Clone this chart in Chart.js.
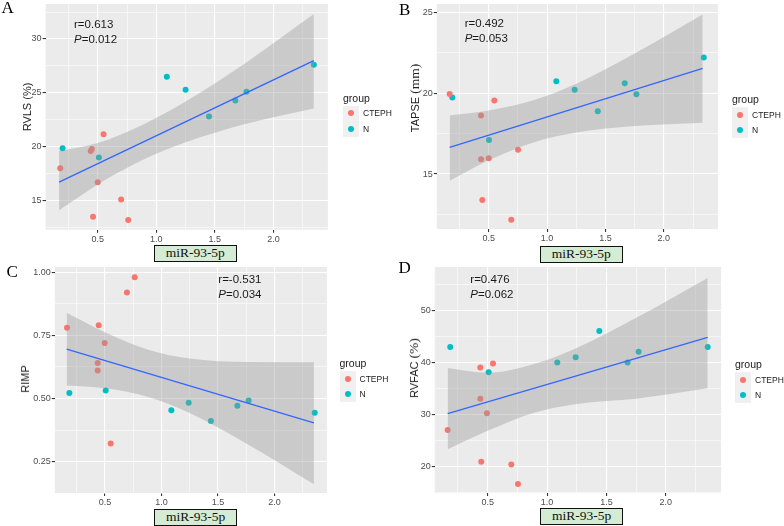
<!DOCTYPE html>
<html>
<head>
<meta charset="utf-8">
<script src="https://cdn.jsdelivr.net/npm/chart.js@4.4.0/dist/chart.umd.min.js"></script>
<style>
body { margin:0; background:#fff; width:784px; height:526px; position:relative; overflow:hidden; font-family:"Liberation Sans", Arial, sans-serif; }
.panel { position:absolute; width:392px; height:263px; }
.panel canvas { position:absolute; left:0; top:0; }
.letter { position:absolute; font-family:"Liberation Serif", serif; font-size:17px; line-height:17px; color:#000; }
.stat { position:absolute; font-size:11.5px; line-height:15px; color:#1a1a1a; white-space:nowrap; }
.ytitle { position:absolute; transform:translate(-50%,-50%) rotate(-90deg); white-space:nowrap; font-size:11px; color:#222; }
.ytitle .serif { font-family:"Liberation Serif", serif; font-size:13.5px; }
.xbox { position:absolute; box-sizing:border-box; width:82.5px; height:17px; border:1.5px solid #111; background:#d4ecd3;
        font-family:"Liberation Serif", serif; font-size:13.5px; line-height:13px; text-align:center; color:#111; }
.lgtitle { position:absolute; font-size:10.5px; line-height:12px; color:#1a1a1a; }
.lgkeys { position:absolute; width:16px; height:31px; background:#f0f0f0; }
.dot { position:absolute; width:6px; height:6px; border-radius:50%; }
.lglabel { position:absolute; font-size:8.5px; line-height:10px; color:#1a1a1a; }
</style>
</head>
<body>
<script>
const groups = ['CTEPH', 'N'];
const groupColors = ['#F8766D', '#00BFC4'];

const xMajorTicks = [0.5, 1.0, 1.5, 2.0];
const xMinorTicks = [0.25, 0.75, 1.25, 1.75, 2.25];
const xMin = 0.055, xMax = 2.465;

// A  RVLS
const rvlsCtephX = [0.18, 0.44, 0.45, 0.55, 0.50, 0.70, 0.46, 0.76];
const rvlsCtephY = [18.0, 19.6, 19.8, 21.15, 16.7, 15.1, 13.5, 13.2];
const rvlsNX = [0.20, 0.51, 1.09, 1.25, 1.45, 1.675, 1.77, 2.345];
const rvlsNY = [19.85, 19.0, 26.5, 25.3, 22.8, 24.3, 25.1, 27.6];
const rvlsFitX = [0.17, 2.345];
const rvlsFitY = [16.71, 28.0];
const rvlsBandX = [0.17, 0.5, 0.89, 1.25, 1.75, 2.345];
const rvlsBandHi = [19.6, 20.34, 22.07, 24.19, 27.69, 32.32];
const rvlsBandLo = [14.1, 16.5, 18.81, 20.41, 22.09, 23.56];
const rvlsMajorTicks = [15, 20, 25, 30];
const rvlsMinorTicks = [12.5, 17.5, 22.5, 27.5, 32.5];

// B  TAPSE
const tapseCtephX = [0.165, 0.434, 0.548, 0.434, 0.50, 0.751, 0.445, 0.693];
const tapseCtephY = [19.94, 18.62, 19.54, 15.91, 15.98, 16.5, 13.39, 12.17];
const tapseNX = [0.188, 0.502, 1.079, 1.236, 1.434, 1.665, 1.765, 2.342];
const tapseNY = [19.72, 17.1, 20.73, 20.2, 18.88, 20.61, 19.92, 22.2];
const tapseFitX = [0.165, 2.333];
const tapseFitY = [16.65, 21.52];
const tapseBandX = [0.165, 0.5, 0.89, 1.25, 1.75, 2.333];
const tapseBandHi = [18.62, 18.93, 19.57, 20.58, 22.44, 24.85];
const tapseBandLo = [14.59, 15.85, 16.97, 17.56, 17.96, 18.17];
const tapseMajorTicks = [15, 20, 25];
const tapseMinorTicks = [12.5, 17.5, 22.5];

// C  RIMP
const rimpCtephX = [0.163, 0.444, 0.497, 0.435, 0.435, 0.694, 0.763, 0.55];
const rimpCtephY = [0.78, 0.79, 0.719, 0.64, 0.611, 0.919, 0.979, 0.322];
const rimpNX = [0.184, 0.506, 1.087, 1.241, 1.438, 1.672, 1.772, 2.357];
const rimpNY = [0.522, 0.531, 0.453, 0.483, 0.411, 0.471, 0.492, 0.443];
const rimpFitX = [0.16, 2.35];
const rimpFitY = [0.695, 0.403];
const rimpBandX = [0.16, 0.5, 0.89, 1.25, 1.75, 2.35];
const rimpBandHi = [0.839, 0.762, 0.692, 0.658, 0.644, 0.643];
const rimpBandLo = [0.551, 0.540, 0.505, 0.442, 0.322, 0.161];
const rimpMajorTicks = [0.25, 0.5, 0.75, 1.0];
const rimpMinorTicks = [0.125, 0.375, 0.625, 0.875];

// D  RVFAC
const rvfacCtephX = [0.163, 0.438, 0.545, 0.438, 0.494, 0.446, 0.699, 0.755];
const rvfacCtephY = [26.97, 39.0, 39.77, 33.0, 30.2, 20.83, 20.33, 16.55];
const rvfacNX = [0.185, 0.508, 1.086, 1.241, 1.44, 1.678, 1.771, 2.352];
const rvfacNY = [42.97, 38.1, 40.0, 40.98, 46.04, 40.0, 42.07, 42.97];
const rvfacFitX = [0.163, 2.352];
const rvfacFitY = [30.13, 44.85];
const rvfacBandX = [0.163, 0.5, 0.89, 1.25, 1.75, 2.352];
const rvfacBandHi = [38.94, 38.0, 39.7, 42.8, 48.6, 56.3];
const rvfacBandLo = [23.26, 26.8, 30.3, 32.0, 33.0, 35.0];
const rvfacMajorTicks = [20, 30, 40, 50];
const rvfacMinorTicks = [15, 25, 35, 45, 55];

const panels = [
  { letter:'A', left:0, top:0, area:{left:45.6, right:327.9, top:1.6, bottom:229.7},
    yMin:12.3, yMax:33.25, yMajor:rvlsMajorTicks, yMinor:rvlsMinorTicks, yFmt:v => String(v),
    cx:rvlsCtephX, cy:rvlsCtephY, nx:rvlsNX, ny:rvlsNY, fx:rvlsFitX, fy:rvlsFitY,
    bx:rvlsBandX, bhi:rvlsBandHi, blo:rvlsBandLo,
    ytitle:'RVLS (%)', ytPos:[27.3, 107], r:'0.613', p:'0.012', statPos:[74, 16.8],
    boxPos:[154, 244.5], legPos:[343, 105.5], letterPos:[1.5, -1.2] },
  { letter:'B', left:392, top:0, area:{left:44.8, right:326.1, top:1.1, bottom:229.1},
    yMin:11.6, yMax:25.5, yMajor:tapseMajorTicks, yMinor:tapseMinorTicks, yFmt:v => String(v),
    cx:tapseCtephX, cy:tapseCtephY, nx:tapseNX, ny:tapseNY, fx:tapseFitX, fy:tapseFitY,
    bx:tapseBandX, bhi:tapseBandHi, blo:tapseBandLo,
    ytitle:'TAPSE <span class="serif">(mm)</span>', ytPos:[22.7, 97.5], r:'0.492', p:'0.053', statPos:[72.7, 16.2],
    boxPos:[148, 245.5], legPos:[340, 107.2], letterPos:[7, 1.1] },
  { letter:'C', left:0, top:263, area:{left:54.8, right:326.9, top:2.2, bottom:230},
    yMin:0.126, yMax:1.02, yMajor:rimpMajorTicks, yMinor:rimpMinorTicks, yFmt:v => v.toFixed(2),
    cx:rimpCtephX, cy:rimpCtephY, nx:rimpNX, ny:rimpNY, fx:rimpFitX, fy:rimpFitY,
    bx:rimpBandX, bhi:rimpBandHi, blo:rimpBandLo,
    ytitle:'RIMP', ytPos:[25, 116], r:'-0.531', p:'0.034', statPos:[218.3, 9.2],
    boxPos:[154.3, 246], legPos:[339.5, 108.2], letterPos:[6.5, -0.2] },
  { letter:'D', left:392, top:263, area:{left:42.8, right:329.1, top:3.1, bottom:230.1},
    yMin:14.8, yMax:58.4, yMajor:rvfacMajorTicks, yMinor:rvfacMinorTicks, yFmt:v => String(v),
    cx:rvfacCtephX, cy:rvfacCtephY, nx:rvfacNX, ny:rvfacNY, fx:rvfacFitX, fy:rvfacFitY,
    bx:rvfacBandX, bhi:rvfacBandHi, blo:rvfacBandLo,
    ytitle:'RVFAC <span class="serif">(%)</span>', ytPos:[21.7, 105], r:'0.476', p:'0.062', statPos:[78.3, 8.5],
    boxPos:[148.3, 245], legPos:[343, 108.9], letterPos:[6.5, -4.2] }
];

function pts(xs, ys) { return xs.map((x, i) => ({ x: x, y: ys[i] })); }

const panelBg = {
  id: 'panelBg',
  beforeDraw(chart) {
    const a = chart.chartArea, ctx = chart.ctx;
    ctx.save();
    ctx.fillStyle = '#EBEBEB';
    ctx.fillRect(a.left, a.top, a.right - a.left, a.bottom - a.top);
    ctx.restore();
  }
};

function axis(min, max, major, minor, fmt, size, vertical) {
  const all = major.concat(minor).sort((a, b) => a - b);
  const isMajor = v => major.includes(v);
  return {
    type: 'linear', min: min, max: max, bounds: 'data',
    afterBuildTicks: s => { s.ticks = all.map(v => ({ value: v })); },
    afterFit: s => {
      if (vertical) s.width = size; else s.height = size;
      s.paddingTop = 0; s.paddingBottom = 0; s.paddingLeft = 0; s.paddingRight = 0;
    },
    ticks: {
      autoSkip: false, maxRotation: 0, padding: 1, color: '#4D4D4D',
      font: { family: 'Liberation Sans', size: 9 },
      callback: v => isMajor(v) ? fmt(v) : ''
    },
    grid: {
      color: '#FFFFFF',
      lineWidth: c => (c.tick && isMajor(c.tick.value)) ? 1.1 : 0.55,
      tickLength: 3,
      tickColor: c => (c.tick && isMajor(c.tick.value)) ? '#333333' : 'rgba(0,0,0,0)'
    },
    border: { display: false }
  };
}

panels.forEach(p => {
  const div = document.createElement('div');
  div.className = 'panel';
  div.style.left = p.left + 'px';
  div.style.top = p.top + 'px';
  document.body.appendChild(div);

  const canvas = document.createElement('canvas');
  canvas.width = 392; canvas.height = 263;
  div.appendChild(canvas);

  const band = 'rgba(153,153,153,0.4)';
  new Chart(canvas, {
    type: 'scatter',
    data: {
      datasets: [
        { label: 'ci-hi', data: pts(p.bx, p.bhi), showLine: true, fill: '+1', backgroundColor: band,
          borderColor: 'transparent', borderWidth: 0, pointRadius: 0, cubicInterpolationMode: 'monotone', order: 2 },
        { label: 'ci-lo', data: pts(p.bx, p.blo), showLine: true, fill: false,
          borderColor: 'transparent', borderWidth: 0, pointRadius: 0, cubicInterpolationMode: 'monotone', order: 2 },
        { label: 'fit', data: pts(p.fx, p.fy), showLine: true, borderColor: '#3366FF', borderWidth: 1.3,
          pointRadius: 0, fill: false, order: 0 },
        { label: groups[0], data: pts(p.cx, p.cy), backgroundColor: groupColors[0], borderWidth: 0, pointRadius: 3, order: 3 },
        { label: groups[1], data: pts(p.nx, p.ny), backgroundColor: groupColors[1], borderWidth: 0, pointRadius: 3, order: 3 }
      ]
    },
    options: {
      responsive: false, animation: false, events: [],
      layout: { padding: { top: p.area.top, right: 392 - p.area.right, left: 0, bottom: 0 } },
      plugins: { legend: { display: false }, tooltip: { enabled: false } },
      scales: {
        x: axis(xMin, xMax, xMajorTicks, xMinorTicks, v => v.toFixed(1), 263 - p.area.bottom, false),
        y: axis(p.yMin, p.yMax, p.yMajor, p.yMinor, p.yFmt, p.area.left, true)
      }
    },
    plugins: [panelBg]
  });

  let html = '';
  html += '<div class="letter" style="left:' + p.letterPos[0] + 'px;top:' + p.letterPos[1] + 'px">' + p.letter + '</div>';
  html += '<div class="stat" style="left:' + p.statPos[0] + 'px;top:' + p.statPos[1] + 'px">r=' + p.r +
          '<br><i>P</i>=' + p.p + '</div>';
  html += '<div class="ytitle" style="left:' + p.ytPos[0] + 'px;top:' + p.ytPos[1] + 'px">' + p.ytitle + '</div>';
  html += '<div class="xbox" style="left:' + p.boxPos[0] + 'px;top:' + p.boxPos[1] + 'px">miR-93-5p</div>';
  const lx = p.legPos[0], ly = p.legPos[1];
  html += '<div class="lgtitle" style="left:' + lx + 'px;top:' + (ly - 14) + 'px">group</div>';
  html += '<div class="lgkeys" style="left:' + lx + 'px;top:' + ly + 'px"></div>';
  groups.forEach((g, i) => {
    const cy = ly + 7.75 + i * 15.5;
    html += '<div class="dot" style="left:' + (lx + 5) + 'px;top:' + (cy - 3) + 'px;background:' + groupColors[i] + '"></div>';
    html += '<div class="lglabel" style="left:' + (lx + 20) + 'px;top:' + (cy - 5) + 'px">' + g + '</div>';
  });
  div.insertAdjacentHTML('beforeend', html);
});
</script>
</body>
</html>
